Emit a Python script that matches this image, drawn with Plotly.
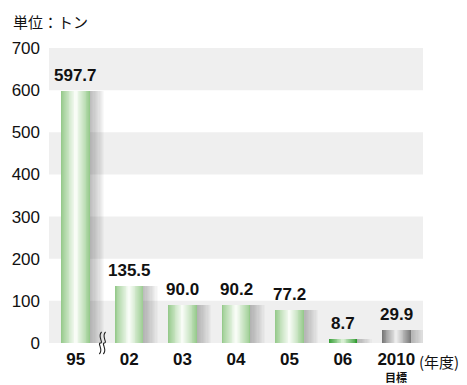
import plotly.graph_objects as go

# Annual amounts (tonnes) by fiscal year; the last bar is the 2010 target
categories = ["95", "02", "03", "04", "05", "06", "2010"]
values = [597.7, 135.5, 90.0, 90.2, 77.2, 8.7, 29.9]
value_labels = ["597.7", "135.5", "90.0", "90.2", "77.2", "8.7", "29.9"]
y_ticks = [0, 100, 200, 300, 400, 500, 600, 700]

W, H = 467, 385
ML, MR, MT, MB = 45, 44, 48, 42
PW, PH = W - ML - MR, H - MT - MB

BAR_W = 0.537
SHADOW_W = 0.28

# bar edge / centre colours (cylinder look)
edge_rgb = [(150, 202, 140)] * 5 + [(45, 155, 45), (120, 120, 120)]
centre_rgb = [(248, 252, 246)] * 5 + [(215, 238, 210), (236, 236, 236)]


def mix(a, b, t):
    return "rgb(%d,%d,%d)" % tuple(round(a[i] + (b[i] - a[i]) * t) for i in range(3))


fig = go.Figure()

# soft shadow to the right of each bar
N_SH = 12
for k in range(N_SH):
    w = SHADOW_W * (1 - k / N_SH)
    fig.add_trace(go.Bar(
        x=categories, y=values, width=w, offset=BAR_W / 2 - 0.01,
        marker=dict(color="rgba(60,60,60,0.033)", line=dict(width=0)),
        hoverinfo="skip", showlegend=False,
    ))

# concentric layers give the horizontal gradient of each bar
N_L = 16
for k in range(N_L):
    t = (k / (N_L - 1)) ** 0.9
    w = BAR_W * (1 - k / N_L)
    cols = [mix(edge_rgb[i], centre_rgb[i], t) for i in range(len(categories))]
    fig.add_trace(go.Bar(
        x=categories, y=values, width=w,
        marker=dict(color=cols, line=dict(width=0)),
        hoverinfo="skip", showlegend=False,
    ))

# alternating horizontal bands
shapes = []
for lo in (0, 200, 400, 600):
    shapes.append(dict(type="rect", xref="paper", yref="y", x0=0, x1=1,
                       y0=lo, y1=lo + 100, fillcolor="#efefef",
                       line=dict(width=0), layer="below"))


def px(x, y):
    return (x - ML) / PW, (H - MB - y) / PH


# axis-break squiggle between 95 and 02
for cx in (97.0, 101.0):
    a = px(cx + 1.2, 332)
    c1 = px(cx - 3.5, 336)
    c2 = px(cx + 3.5, 343)
    b = px(cx, 343)
    c3 = px(cx - 3.5, 343)
    c4 = px(cx + 3.5, 350)
    e = px(cx - 1.2, 354)
    p = ("M %.4f,%.4f C %.4f,%.4f %.4f,%.4f %.4f,%.4f C %.4f,%.4f %.4f,%.4f %.4f,%.4f"
         % (a + c1 + c2 + b + c3 + c4 + e))
    shapes.append(dict(type="path", xref="paper", yref="paper", path=p,
                       line=dict(color="#222222", width=1.1), layer="above"))

annotations = [
    dict(text="単位：トン", xref="paper", yref="paper", x=px(7, 0)[0], y=px(0, 21)[1],
         xanchor="left", yanchor="middle", showarrow=False,
         font=dict(family="Noto Sans CJK JP", size=15, color="#111111")),
    dict(text="目標", xref="x", yref="paper", x=len(categories) - 1, y=px(0, 376.8)[1],
         xanchor="center", yanchor="middle", showarrow=False,
         font=dict(family="Noto Sans CJK JP", size=11, color="#111111", weight="bold")),
    dict(text="(年度)", xref="paper", yref="paper", x=px(417, 0)[0], y=px(0, 361)[1],
         xanchor="left", yanchor="middle", showarrow=False,
         font=dict(family="Noto Sans CJK JP", size=15, color="#111111")),
]

# value labels above the bars
for i, (v, lab) in enumerate(zip(values, value_labels)):
    annotations.append(dict(
        text=lab, xref="x", yref="y", x=i, y=v, xanchor="center", yanchor="bottom",
        yshift=4, showarrow=False,
        font=dict(family="Liberation Sans", size=17, color="#111111", weight="bold")))

fig.update_layout(
    width=W, height=H,
    margin=dict(l=ML, r=MR, t=MT, b=MB, pad=0),
    paper_bgcolor="white", plot_bgcolor="white",
    barmode="overlay", bargap=0,
    shapes=shapes, annotations=annotations,
    showlegend=False,
    xaxis=dict(type="category", categoryorder="array", categoryarray=categories,
               range=[-0.5, len(categories) - 0.5], showgrid=False, zeroline=False,
               showline=False, ticks="", ticklabelstandoff=4,
               tickfont=dict(family="Liberation Sans", size=17, color="#111111", weight="bold"),
               fixedrange=True),
    yaxis=dict(range=[0, 700], tickvals=y_ticks, showgrid=False, zeroline=False,
               showline=False, ticks="", ticklabelstandoff=8,
               tickfont=dict(family="Liberation Sans", size=17, color="#111111"),
               fixedrange=True),
)

fig.write_html("out.html")
